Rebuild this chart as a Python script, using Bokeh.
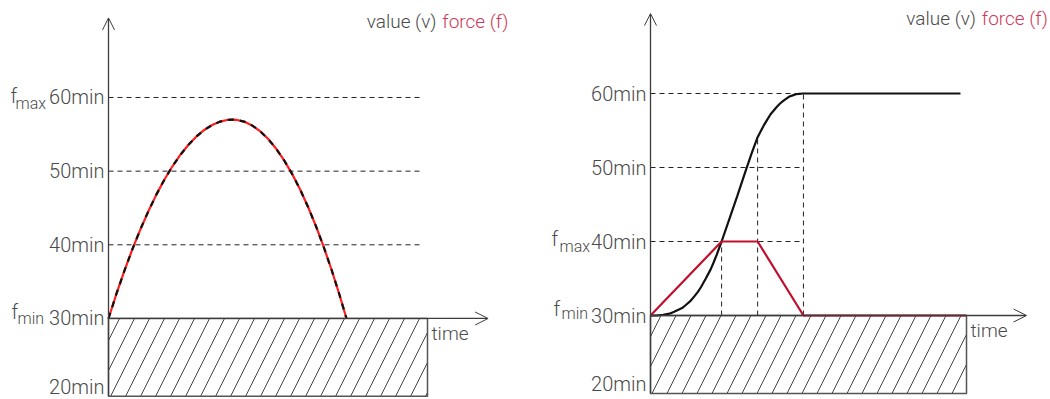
from bokeh.plotting import figure
from bokeh.layouts import row
from bokeh.models import Range1d, Arrow, OpenHead, Label
from bokeh.core.properties import value
from bokeh.embed import file_html
from bokeh.resources import INLINE

FONT = "Roboto Light"
TEXT = "#4a4a4a"
AXIS = "#3c3c3c"
GUIDE = "#222222"
VALUE_COLOR = "#111111"
LEGEND_RED = "#cf3a5a"

# y ticks shared by both panels
y_ticks = [20, 30, 40, 50, 60]
y_tick_labels = ["20min", "30min", "40min", "50min", "60min"]

# hatched band below the minimum
floor_value = 19.45
min_value = 30
band_start, band_end = 0, 10
axis_top = 70.8
time_tip = 11.9

# panel 1: value follows force over an arch
t1 = [0, 0.25, 0.5, 0.75, 1.0, 1.25, 1.5, 1.75, 2.0, 2.25, 2.5, 2.75, 3.0,
      3.25, 3.5, 3.75, 3.89, 4.0, 4.25, 4.5, 4.75, 5.0, 5.25, 5.5, 5.75,
      6.0, 6.25, 6.5, 6.75, 7.0, 7.25, 7.46]
v1 = [30, 33.36, 36.49, 39.41, 42.1, 44.56, 46.81, 48.83, 50.63, 52.2, 53.55,
      54.68, 55.59, 56.27, 56.73, 56.97, 57.0, 56.97, 56.73, 56.21, 55.43,
      54.39, 53.08, 51.51, 49.67, 47.57, 45.2, 42.57, 39.67, 36.51, 33.08, 30]
f1 = list(v1)
guides1 = [40, 50, 60]
guide1_end = 9.8
fmax1, fmin1 = 60, 30

# panel 2: force ramps, holds, releases; value settles at 60min
t2 = [0, 0.2, 0.4, 0.6, 0.75, 0.9, 1.0, 1.1, 1.25, 1.4, 1.5, 1.6, 1.75, 1.9,
      2.0, 2.1, 2.25, 2.5, 2.75, 3.0, 3.2, 3.39, 3.5, 3.6, 3.7, 3.8, 3.9,
      4.0, 4.1, 4.2, 4.3, 4.4, 4.5, 4.6, 4.7, 4.84, 9.81]
v2 = [30, 30.0, 30.1, 30.25, 30.5, 30.8, 31.0, 31.35, 31.9, 32.65, 33.2,
      33.85, 35.0, 36.2, 37.2, 38.25, 40.0, 43.1, 46.2, 49.4, 51.9, 54.1,
      55.0, 55.8, 56.5, 57.2, 57.7, 58.2, 58.65, 59.0, 59.3, 59.6, 59.75,
      59.9, 59.95, 60, 60]
tf2 = [0, 2.25, 3.39, 4.84, 10.0]
f2 = [30, 40, 40, 30, 30]
marks2 = [2.25, 3.39, 4.84]
mark_values2 = [40, 54.1, 60]
guides2 = [40, 50, 60]
guide2_end = 4.84
fmax2, fmin2 = 40, 30


def base_panel(x_start, x_end, y_start, y_end, bottom_lift):
    p = figure(width=525, height=399,
               x_range=Range1d(x_start, x_end), y_range=Range1d(y_start, y_end),
               output_backend="svg", toolbar_location=None,
               x_axis_location=None, y_axis_location=None,
               min_border=0, outline_line_color=None,
               background_fill_color="white", border_fill_color="white")
    p.grid.visible = False

    # y tick labels to the left of the vertical axis; the lowest one is
    # nudged up so it stays inside the canvas
    lifts = [-bottom_lift if t == min(y_ticks) else 0 for t in y_ticks]
    p.text(x=[0] * len(y_ticks), y=y_ticks, text=y_tick_labels,
           x_offset=-4, y_offset=lifts, text_align="right", text_baseline="middle",
           text_font=value(FONT), text_font_size="20px", text_color=TEXT)

    # hatched region under the minimum
    p.quad(left=band_start, right=band_end, bottom=floor_value, top=min_value,
           fill_color="white", line_color="#555555", line_width=1.5,
           hatch_pattern="/", hatch_scale=30, hatch_color="#444444", hatch_weight=1)

    # arrowed axes
    p.add_layout(Arrow(end=OpenHead(size=12, line_color=AXIS, line_width=1),
                       x_start=0, y_start=floor_value, x_end=0, y_end=axis_top,
                       line_color=AXIS, line_width=1.3))
    p.add_layout(Arrow(end=OpenHead(size=13, line_color=AXIS, line_width=1),
                       x_start=0, y_start=min_value, x_end=time_tip, y_end=min_value,
                       line_color=AXIS, line_width=1.3))
    p.add_layout(Label(x=band_end, y=min_value, x_offset=4, y_offset=-15,
                       text="time", text_font=FONT, text_font_size="19px",
                       text_color=TEXT, text_baseline="alphabetic"))
    return p


def bound_label(p, level, sub, dx_f, dy_f, dx_sub, dy_sub):
    p.text(x=[0], y=[level], text=["f"], x_offset=dx_f, y_offset=-dy_f,
           text_font=value(FONT), text_font_size="20px", text_color=TEXT,
           text_baseline="alphabetic")
    p.text(x=[0], y=[level], text=[sub], x_offset=dx_sub, y_offset=-dy_sub,
           text_font=value(FONT), text_font_size="16px", text_color=TEXT,
           text_baseline="alphabetic")


def legend(p, x_right, y, red):
    p.add_layout(Label(x=x_right, y=y, text="force (f)", text_font=FONT,
                       text_font_size="19px", text_color=red,
                       text_align="right", text_baseline="middle"))
    p.add_layout(Label(x=x_right, y=y, x_offset=-72, text="value (v)",
                       text_font=FONT, text_font_size="19px", text_color=TEXT,
                       text_align="right", text_baseline="middle"))


# ---- left panel
p1 = base_panel(-108 / 31.9, 417 / 31.9, 19.0, 30 + 318 / 7.367, 5)
p1.segment(x0=0, y0=guides1, x1=guide1_end, y1=guides1,
           line_color=GUIDE, line_width=1, line_dash="5 4")
p1.line(t1, f1, line_color="#ff1e1e", line_width=2.2)
p1.line(t1, v1, line_color=VALUE_COLOR, line_width=2.2, line_dash="6 6")
bound_label(p1, fmax1, "max", -98, 1.5, -93, -6.5)
bound_label(p1, fmin1, "min", -97, 6, -91, 0)
legend(p1, 12.54, 70.3, LEGEND_RED)

# ---- right panel
p2 = base_panel(-125 / 31.6, 400 / 31.6, 30 - 84 / 7.4, 30 + 315 / 7.4, 6)
p2.segment(x0=0, y0=guides2, x1=guide2_end, y1=guides2,
           line_color=GUIDE, line_width=1, line_dash="5 4")
p2.segment(x0=marks2, y0=min_value, x1=marks2, y1=mark_values2,
           line_color=GUIDE, line_width=1, line_dash="5 4")
p2.line(t2, v2, line_color=VALUE_COLOR, line_width=2.2)
p2.line(tf2, f2, line_color="#c0102e", line_width=2.2)
bound_label(p2, fmax2, "max", -99, 3, -91, -5)
bound_label(p2, fmin2, "min", -97, 7, -89, 2)
legend(p2, 12.58, 70.2, LEGEND_RED)

layout = row(p1, p2)
open("out.html", "w").write(file_html(layout, INLINE))
